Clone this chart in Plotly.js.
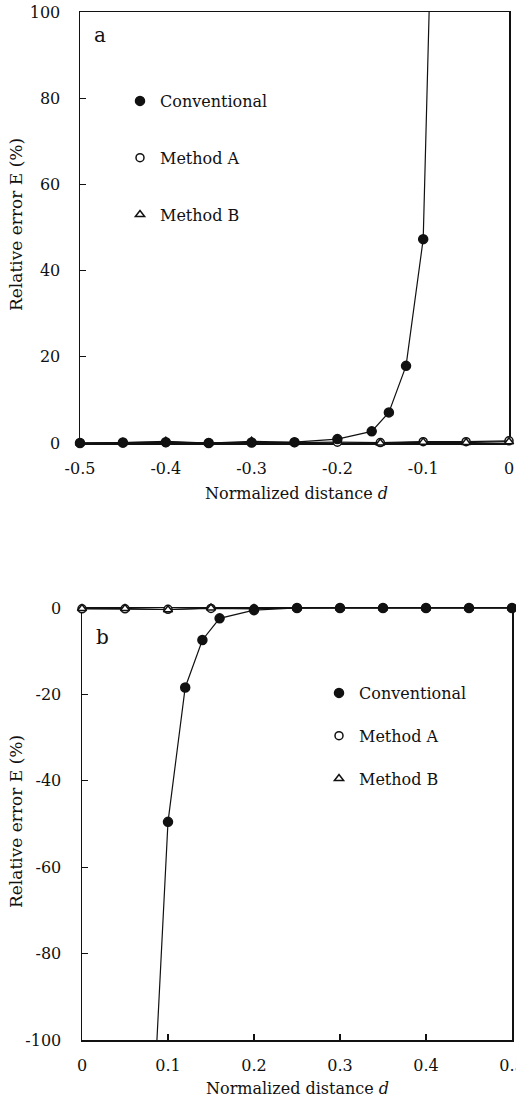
<!DOCTYPE html>
<html>
<head>
<meta charset="utf-8">
<script src="https://cdn.plot.ly/plotly-3.0.1.min.js"></script>
<style>html,body{margin:0;padding:0;background:#fff;}#chart{width:516px;height:1101px;}</style>
</head>
<body>
<div id="chart"></div>
<script>
// ---- Panel a data ----
var xA_conv = [-0.5, -0.45, -0.4, -0.35, -0.3, -0.25, -0.2, -0.16, -0.14, -0.12, -0.1, -0.08];
var yA_conv = [0, 0.1, 0.2, 0, 0.1, 0.2, 0.9, 2.7, 7.1, 17.9, 47.3, 200];
var xA_methods = [-0.5, -0.45, -0.4, -0.35, -0.3, -0.25, -0.2, -0.15, -0.1, -0.05, 0];
var yA_methodA = [0, 0, 0.1, 0, 0.1, 0.1, 0.2, 0.1, 0.3, 0.3, 0.5];
var yA_methodB = [0, 0.1, 0.4, 0, 0.4, 0.1, -0.1, 0, 0.2, 0.1, 0.3];

// ---- Panel b data ----
var xB_conv = [0.08, 0.1, 0.12, 0.14, 0.16, 0.2, 0.25, 0.3, 0.35, 0.4, 0.45, 0.5];
var yB_conv = [-128, -49.5, -18.4, -7.4, -2.4, -0.5, 0, 0, 0, 0, 0, 0];
var xB_methods = [0, 0.05, 0.1, 0.15, 0.2, 0.25, 0.3, 0.35, 0.4, 0.45, 0.5];
var yB_methodA = [-0.2, -0.2, -0.3, -0.1, -0.2, 0, 0, 0, 0, 0, 0];
var yB_methodB = [-0.1, -0.1, -0.4, 0, -0.1, 0, 0, 0, 0, 0, 0];

var seriesNames = ['Conventional', 'Method A', 'Method B'];
var yTicksA = [0, 20, 40, 60, 80, 100];
var yTicksB = [-100, -80, -60, -40, -20, 0];
var xTicksA = [-0.5, -0.4, -0.3, -0.2, -0.1, 0];
var xTicksB = [0, 0.1, 0.2, 0.3, 0.4, 0.5];
var xTickTextA = ['-0.5', '-0.4', '-0.3', '-0.2', '-0.1', '0'];
var xTickTextB = ['0', '0.1', '0.2', '0.3', '0.4', '0.5'];
var yTickTextA = ['0', '20', '40', '60', '80', '100'];
var yTickTextB = ['-100', '-80', '-60', '-40', '-20', '0'];

var FONT = 'DejaVu Serif, Liberation Serif, serif';
var INK = '#111';
var W = 516, H = 1101;

function lineTrace(x, y, xa, ya) {
  return {x: x, y: y, xaxis: xa, yaxis: ya, mode: 'lines', type: 'scatter',
    line: {color: INK, width: 1.2}, showlegend: false, hoverinfo: 'skip', cliponaxis: true};
}
function markTrace(x, y, xa, ya, name, symbol, size, fill, leg, rank) {
  return {x: x, y: y, xaxis: xa, yaxis: ya, mode: 'markers', type: 'scatter', name: name,
    legend: leg, legendgroup: leg + name, legendrank: rank,
    marker: {symbol: symbol, size: size, color: fill, line: {color: INK, width: 1.5}},
    cliponaxis: false};
}

var data = [
  lineTrace(xA_methods, yA_methodA, 'x', 'y'),
  lineTrace(xA_methods, yA_methodB, 'x', 'y'),
  lineTrace(xA_conv, yA_conv, 'x', 'y'),
  markTrace(xA_methods, yA_methodA, 'x', 'y', seriesNames[1], 'circle', 8, '#fff', 'legend', 2),
  markTrace(xA_methods, yA_methodB, 'x', 'y', seriesNames[2], 'triangle-up-open', 8, INK, 'legend', 3),
  markTrace(xA_conv, yA_conv, 'x', 'y', seriesNames[0], 'circle', 9, INK, 'legend', 1),
  lineTrace(xB_methods, yB_methodA, 'x2', 'y2'),
  lineTrace(xB_methods, yB_methodB, 'x2', 'y2'),
  lineTrace(xB_conv, yB_conv, 'x2', 'y2'),
  markTrace(xB_methods, yB_methodA, 'x2', 'y2', seriesNames[1], 'circle', 8, '#fff', 'legend2', 2),
  markTrace(xB_methods, yB_methodB, 'x2', 'y2', seriesNames[2], 'triangle-up-open', 8, INK, 'legend2', 3),
  markTrace(xB_conv, yB_conv, 'x2', 'y2', seriesNames[0], 'circle', 9, INK, 'legend2', 1)
];

function axisBase(extra) {
  var a = {showline: true, mirror: true, linecolor: INK, linewidth: 1.5,
    ticks: 'inside', ticklen: 6, tickwidth: 1.2, tickcolor: INK,
    showgrid: false, zeroline: false, layer: 'below traces', fixedrange: true,
    ticklabeloverflow: 'allow',
    tickfont: {family: FONT, size: 16, color: INK}, tickmode: 'array'};
  for (var k in extra) a[k] = extra[k];
  return a;
}

var layout = {
  width: W, height: H, margin: {l: 0, r: 0, t: 0, b: 0},
  paper_bgcolor: '#fff', plot_bgcolor: '#fff',
  font: {family: FONT, size: 16, color: INK},
  xaxis: axisBase({domain: [80 / W, 509 / W], range: [-0.5, 0], anchor: 'y',
    tickvals: xTicksA, ticktext: xTickTextA, ticklabelstandoff: 10}),
  yaxis: axisBase({domain: [1 - 443 / H, 1 - 12 / H], range: [0, 100], anchor: 'x',
    tickvals: yTicksA, ticktext: yTickTextA, ticklabelstandoff: 15}),
  xaxis2: axisBase({domain: [82 / W, 512 / W], range: [0, 0.5], anchor: 'y2',
    tickvals: xTicksB, ticktext: xTickTextB, ticklabelstandoff: 10}),
  yaxis2: axisBase({domain: [1 - 1040 / H, 1 - 608 / H], range: [-100, 0], anchor: 'x2',
    tickvals: yTicksB, ticktext: yTickTextB, ticklabelstandoff: 16}),
  legend: {x: 120 / W, y: 1 - 84 / H, xanchor: 'left', yanchor: 'top', bgcolor: 'rgba(0,0,0,0)',
    font: {family: FONT, size: 16, color: INK}, traceorder: 'grouped', tracegroupgap: 33},
  legend2: {x: 319 / W, y: 1 - 676 / H, xanchor: 'left', yanchor: 'top', bgcolor: 'rgba(0,0,0,0)',
    font: {family: FONT, size: 16, color: INK}, traceorder: 'grouped', tracegroupgap: 19},
  annotations: [
    {text: 'a', xref: 'paper', yref: 'paper', x: 100 / W, y: 1 - 35 / H, showarrow: false,
      font: {family: FONT, size: 20, color: INK}, xanchor: 'center', yanchor: 'middle'},
    {text: 'b', xref: 'paper', yref: 'paper', x: 102 / W, y: 1 - 637 / H, showarrow: false,
      font: {family: FONT, size: 20, color: INK}, xanchor: 'center', yanchor: 'middle'},
    {text: 'Normalized distance <i>d</i>', xref: 'paper', yref: 'paper', x: 296 / W, y: 1 - 493 / H,
      showarrow: false, font: {family: FONT, size: 16, color: INK}, xanchor: 'center', yanchor: 'middle'},
    {text: 'Normalized distance <i>d</i>', xref: 'paper', yref: 'paper', x: 297 / W, y: 1 - 1088 / H,
      showarrow: false, font: {family: FONT, size: 16, color: INK}, xanchor: 'center', yanchor: 'middle'},
    {text: 'Relative error E (%)', xref: 'paper', yref: 'paper', x: 16 / W, y: 1 - 225 / H,
      showarrow: false, textangle: -90, font: {family: FONT, size: 17, color: INK}, xanchor: 'center', yanchor: 'middle'},
    {text: 'Relative error E (%)', xref: 'paper', yref: 'paper', x: 16 / W, y: 1 - 822 / H,
      showarrow: false, textangle: -90, font: {family: FONT, size: 17, color: INK}, xanchor: 'center', yanchor: 'middle'}
  ]
};

Plotly.newPlot('chart', data, layout, {staticPlot: true, displayModeBar: false});
</script>
</body>
</html>
